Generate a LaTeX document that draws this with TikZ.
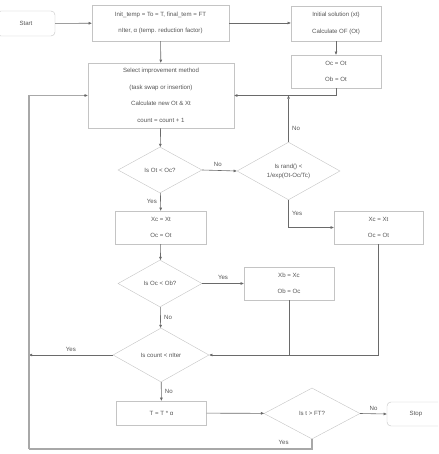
\documentclass[tikz,border=0pt]{standalone}
\usepackage{fontspec}
\setmainfont{Liberation Sans}
\usetikzlibrary{shapes.geometric, arrows.meta}

\definecolor{boxgray}{HTML}{C4C4C4}
\definecolor{linegray}{HTML}{6A6A6A}
\definecolor{loopgray}{HTML}{A8A8A8}
\definecolor{txtgray}{HTML}{555555}

\tikzset{
  proc/.style={draw=boxgray, fill=white, text=txtgray, align=center, inner sep=0pt,
    font=\fontsize{6.1}{16.5}\selectfont},
  term/.style={proc, rounded corners=4pt},
  decide/.style={diamond, draw=boxgray, fill=white, text=txtgray, align=center,
    inner sep=0pt, font=\fontsize{6.1}{9}\selectfont},
  flow/.style={->, draw=linegray, line width=0.6pt},
  loopline/.style={draw=loopgray, line width=1.3pt},
  lbl/.style={text=txtgray, font=\fontsize{6.1}{7}\selectfont},
}

\begin{document}
\begin{tikzpicture}[x=1pt, y=-1pt, >={Triangle[length=3.2pt, width=2.6pt]}]

  \useasboundingbox (0,0) rectangle (438,454);
  \clip (0,0) rectangle (438,454);

  % --- 1. start and setup ---
  \node[term, minimum width=58pt, minimum height=25pt] (start) at (26,23.5) {Start};
  \node[proc, minimum width=137pt, minimum height=36pt] (init) at (160.5,23)
    {Init\_temp = To = T, final\_tem = FT\\nIter, α (temp. reduction factor)};
  \node[proc, minimum width=90pt, minimum height=35pt] (initsol) at (336,23.5)
    {Initial solution (xt)\\Calculate OF (Ot)};
  \node[proc, minimum width=90pt, minimum height=33pt] (ocob) at (336,71.5)
    {Oc = Ot\\Ob = Ot};

  % --- 2. improvement step ---
  \node[proc, minimum width=146pt, minimum height=65pt] (select) at (161,95.5)
    {Select improvement method\\(task swap or insertion)\\Calculate new Ot \& Xt\\count = count + 1};

  % --- 3. decisions ---
  \node[decide, minimum width=84pt, minimum height=46pt] (dOtOc) at (160,170) {Is Ot < Oc?};
  \node[decide, minimum width=103pt, minimum height=54pt] (dRand) at (288.5,171)
    {Is rand() <\\1/exp(Ot-Oc/Tc)};
  \node[proc, minimum width=91pt, minimum height=33pt] (xcL) at (161,227.5) {Xc = Xt\\Oc = Ot};
  \node[proc, minimum width=89pt, minimum height=33pt] (xcR) at (378.5,227.5) {Xc = Xt\\Oc = Ot};
  \node[decide, minimum width=84pt, minimum height=47pt] (dOcOb) at (160,283.5) {Is Oc < Ob?};
  \node[proc, minimum width=90pt, minimum height=33pt] (xb) at (289,283.5) {Xb = Xc\\Ob = Oc};
  \node[decide, minimum width=96pt, minimum height=54pt] (dCount) at (161,355) {Is count < nIter};

  % --- 4. cooling and stop ---
  \node[proc, minimum width=90pt, minimum height=24pt] (tbox) at (161.5,413) {T = T * α};
  \node[decide, minimum width=96pt, minimum height=51pt] (dT) at (312,413.5) {Is t > FT?};
  \node[term, minimum width=58pt, minimum height=24pt] (stop) at (416,414) {Stop};

  \coordinate (loopL) at (29,355);
  \coordinate (loopB) at (29,449);

  % --- 5. connectors ---
  \draw[flow] (start) -- (init);
  \draw[flow] (init.east) -- (initsol.west |- init.east);
  \draw[flow] (initsol) -- (ocob);
  \draw[flow] (ocob.south) |- (select.east);
  \draw[flow] (init) -- (select);
  \draw[flow] (select) -- (dOtOc);
  \draw[flow] (dOtOc.east) -- node[lbl, above, pos=0.45] {No} (dRand.west);
  \draw[flow] (dRand.north) -- node[lbl, right, pos=0.3] {No} (dRand.north |- select.east);
  \draw[flow] (dOtOc) -- node[lbl, left] {Yes} (xcL);
  \draw[flow] (dRand.south) |- node[lbl, right, pos=0.25] {Yes} (xcR.west);
  \draw[flow] (xcL) -- (dOcOb);
  \draw[flow] (dOcOb.east) -- node[lbl, above] {Yes} (xb.west);
  \draw[flow] (dOcOb) -- node[lbl, right] {No} (dCount);
  \draw[flow] (xcR.south) |- (dCount.east);
  \draw[flow, -] (xb.south) -- (xb.south |- dCount.east);
  \draw[flow] (dCount.west) -- node[lbl, above] {Yes} (loopL);
  \draw[flow] (dCount) -- node[lbl, right] {No} (tbox);
  \draw[flow] (tbox) -- (dT);
  \draw[flow] (dT.east) -- node[lbl, above] {No} (stop.west);

  % --- 6. back loop ---
  \draw[loopline] (dT.south) |- node[lbl, above, pos=0.55] {Yes} (loopB);
  \draw[loopline] (loopB) |- ([xshift=-3pt]select.west);
  \draw[flow] ([xshift=-3.5pt]select.west) -- (select.west);

\end{tikzpicture}
\end{document}
